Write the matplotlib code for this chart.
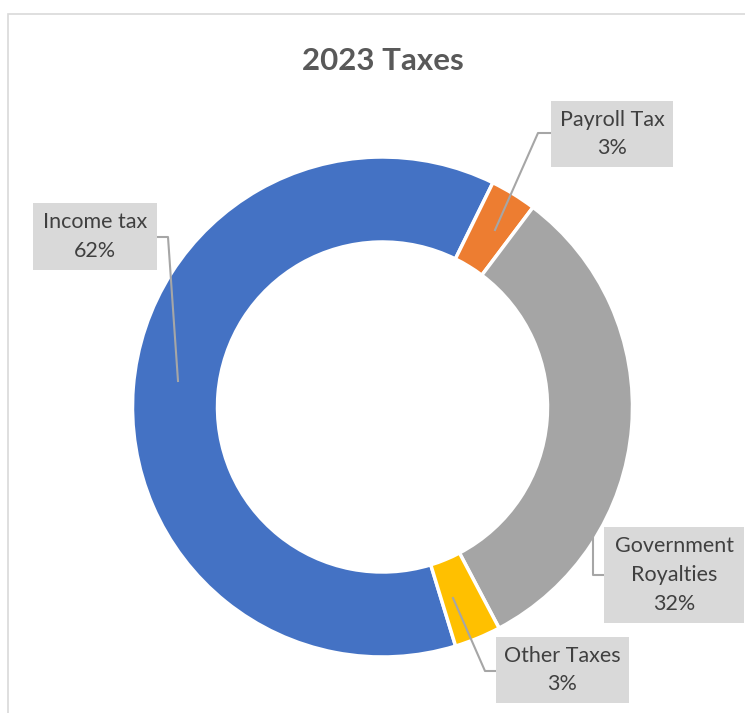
import numpy as np
import matplotlib.pyplot as plt
from matplotlib.patches import Rectangle

categories = ["Income tax", "Payroll Tax", "Government\nRoyalties", "Other Taxes"]
values = [62, 3, 32, 3]
colors = ["#4472C4", "#ED7D31", "#A5A5A5", "#FFC000"]

W, H = 745, 713
CX, CY, R = 382.5, 407, 250  # donut centre / radius in pixels (y from top)

# label boxes (x0, y0, x1, y1 in pixels from top-left) and leader polylines
boxes = [(33, 203, 157, 270), (551, 101, 673, 167), (604, 527, 744, 623), (496, 637, 629, 703)]
leaders = [
    [(157, 237), (168, 237), (178, 381)],
    [(551, 133), (538, 133), (495, 230)],
    [(604, 575), (593, 575), (593, 537)],
    [(496, 671), (485, 671), (453, 598)],
]

plt.rcParams['font.family'] = ['Lato', 'DejaVu Sans']

fig = plt.figure(figsize=(W / 100, H / 100), dpi=100)
ax = fig.add_axes([0, 0, 1, 1])

def Y(py):
    return H - py

# chart frame
ax.add_patch(Rectangle((8, Y(800)), 800, 800 - 14, fill=False, edgecolor="#D9D9D9", lw=1.2))

ax.pie(values, colors=colors, radius=R, center=(CX, Y(CY)), startangle=-73,
       counterclock=False, wedgeprops=dict(width=R * 0.34, edgecolor="white", linewidth=2.5),
       frame=True)
ax.set_xlim(0, W)
ax.set_ylim(0, H)
ax.set_aspect('equal')
ax.axis('off')

ax.text(CX, Y(61), "2023 Taxes", ha="center", va="center", fontsize=22.5,
        fontweight="bold", color="#595959")

for cat, v, (x0, y0, x1, y1), pts in zip(categories, values, boxes, leaders):
    xs = [p[0] for p in pts]
    ys = [Y(p[1]) for p in pts]
    ax.plot(xs, ys, color="#A6A6A6", lw=1.5, zorder=3)
    ax.add_patch(Rectangle((x0, Y(y1)), x1 - x0, y1 - y0, facecolor="#D9D9D9",
                           edgecolor="none", zorder=4))
    ax.text((x0 + x1) / 2, Y((y0 + y1) / 2), f"{cat}\n{v}%", ha="center", va="center",
            fontsize=15.5, color="#404040", linespacing=1.55, zorder=5)

fig.savefig("out.png", dpi=100)
